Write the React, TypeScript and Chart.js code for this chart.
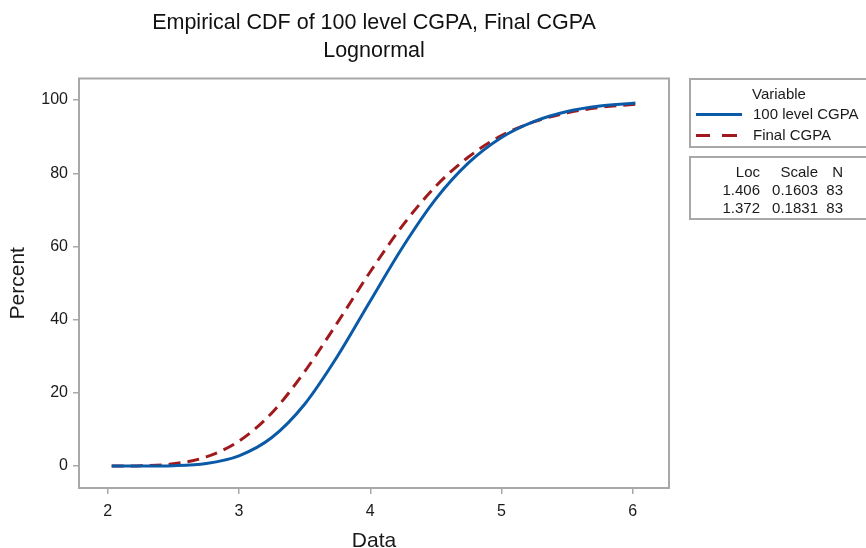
import React, { useEffect, useRef } from "react";
import { Chart, registerables } from "chart.js";

Chart.register(...registerables);

const titleLines = ["Empirical CDF of 100 level CGPA, Final CGPA", "Lognormal"];
const xAxisTitle = "Data";
const yAxisTitle = "Percent";

const seriesNames = ["100 level CGPA", "Final CGPA"];
const xValues = [2.03, 2.25, 2.5, 2.75, 3.0, 3.25, 3.5, 3.75, 4.0, 4.25, 4.5, 4.75, 5.0, 5.25, 5.5, 5.75, 6.02];
const level100Pct = [0, 0, 0.1, 0.7, 2.8, 7.8, 16.9, 30.0, 45.1, 60.0, 73.0, 82.9, 89.8, 94.2, 96.9, 98.4, 99.2];
const finalPct = [0, 0.1, 0.6, 2.5, 6.8, 14.5, 25.8, 39.2, 53.1, 65.9, 76.5, 84.5, 90.3, 94.1, 96.5, 98.0, 98.9];

const statsHeader = ["Loc", "Scale", "N"];
const statsRows = [
  ["1.406", "0.1603", "83"],
  ["1.372", "0.1831", "83"],
];

const BLUE = "#0b5aa8";
const RED = "#a01a1d";
const FRAME = "#a8a8a8";
const TEXT = "#1a1a1a";
const FONT = "'Liberation Sans', Arial, sans-serif";

const framePlugin = {
  id: "frame",
  afterDraw(chart: any) {
    const { ctx, chartArea } = chart;
    ctx.save();
    ctx.strokeStyle = FRAME;
    ctx.lineWidth = 2;
    ctx.strokeRect(chartArea.left, chartArea.top, chartArea.right - chartArea.left, chartArea.bottom - chartArea.top);
    ctx.restore();
  },
};

export default function App() {
  const ref = useRef<HTMLCanvasElement>(null);

  useEffect(() => {
    document.body.style.margin = "0";
    const chart = new Chart(ref.current!, {
      type: "line",
      data: {
        datasets: [
          {
            label: seriesNames[0],
            data: xValues.map((x, i) => ({ x, y: level100Pct[i] })),
            borderColor: BLUE,
            borderWidth: 3,
            pointRadius: 0,
            cubicInterpolationMode: "monotone",
            fill: false,
          },
          {
            label: seriesNames[1],
            data: xValues.map((x, i) => ({ x, y: finalPct[i] })),
            borderColor: RED,
            borderWidth: 3,
            borderDash: [12, 7],
            pointRadius: 0,
            cubicInterpolationMode: "monotone",
            fill: false,
          },
        ],
      },
      options: {
        animation: false,
        responsive: false,
        devicePixelRatio: 1,
        layout: { padding: { left: 0, right: 197, top: 78.5, bottom: 0 } },
        plugins: {
          legend: { display: false },
          tooltip: { enabled: false },
          title: { display: false },
        },
        scales: {
          x: {
            type: "linear",
            min: 1.781,
            max: 6.276,
            afterFit: (s: any) => {
              s.height = 60;
            },
            ticks: {
              stepSize: 1,
              includeBounds: false,
              color: TEXT,
              font: { family: FONT, size: 16 },
              padding: 8,
              maxRotation: 0,
            },
            grid: { display: true, drawOnChartArea: false, drawTicks: true, tickLength: 6, color: FRAME, lineWidth: 1.5 },
            border: { display: false },
            title: {
              display: true,
              text: xAxisTitle,
              color: TEXT,
              font: { family: FONT, size: 21, lineHeight: 1 },
              padding: { top: 0, bottom: -4 },
            },
          },
          y: {
            type: "linear",
            min: -6,
            max: 105.9,
            afterFit: (s: any) => {
              s.width = 79;
            },
            ticks: {
              stepSize: 20,
              includeBounds: false,
              color: TEXT,
              font: { family: FONT, size: 16 },
              padding: 5,
            },
            grid: { display: true, drawOnChartArea: false, drawTicks: true, tickLength: 6, color: FRAME, lineWidth: 1.5 },
            border: { display: false },
            title: {
              display: true,
              text: yAxisTitle,
              color: TEXT,
              font: { family: FONT, size: 21, lineHeight: 1.2 },
              padding: { top: 5.4, bottom: 0 },
            },
          },
        },
      },
      plugins: [framePlugin],
    });
    return () => chart.destroy();
  }, []);

  const abs = (left: number, top: number, extra: any = {}) => ({ position: "absolute" as const, left, top, ...extra });
  const txt = (left: number, cy: number, s: string, extra: any = {}) => (
    <div style={abs(left, cy - 9, { fontSize: 15, lineHeight: "18px", whiteSpace: "nowrap", color: TEXT, ...extra })}>{s}</div>
  );
  const colRights = [760, 818, 843];
  const rowYs = [172, 190, 208];
  const titleYs = [22, 50];

  return (
    <div style={{ position: "absolute", left: 0, top: 0, width: 866, height: 548, overflow: "hidden", fontFamily: FONT, background: "#fff" }}>
      <canvas ref={ref} width={866} height={548} style={{ position: "absolute", left: 0, top: 0, width: 866, height: 548 }} />
      {titleLines.map((t, i) => (
        <div
          key={t}
          style={abs(374 - 300, titleYs[i] - 13, { width: 600, textAlign: "center", fontSize: 21.5, lineHeight: "26px", color: "#111", whiteSpace: "nowrap" })}
        >
          {t}
        </div>
      ))}
      <div style={abs(689, 78, { width: 220, height: 70, border: `2px solid ${FRAME}`, boxSizing: "border-box" })} />
      {txt(752, 94, "Variable")}
      <div style={abs(696, 113, { width: 46, height: 3, background: BLUE })} />
      {txt(753, 114, seriesNames[0])}
      <div style={abs(696, 134, { width: 14, height: 3, background: RED })} />
      <div style={abs(722, 134, { width: 15, height: 3, background: RED })} />
      {txt(753, 135, seriesNames[1])}
      <div style={abs(689, 156, { width: 220, height: 64, border: `2px solid ${FRAME}`, boxSizing: "border-box" })} />
      {[statsHeader, ...statsRows].map((row, r) =>
        row.map((cell, c) => (
          <div
            key={`${r}-${c}`}
            style={abs(colRights[c] - 60, rowYs[r] - 9, { width: 60, textAlign: "right", fontSize: 15, lineHeight: "18px", color: TEXT, whiteSpace: "nowrap" })}
          >
            {cell}
          </div>
        ))
      )}
    </div>
  );
}
